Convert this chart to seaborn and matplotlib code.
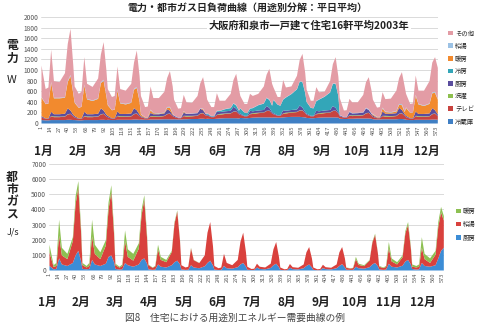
import numpy as np
import pandas as pd
import matplotlib
matplotlib.use("Agg")
import matplotlib.pyplot as plt
import seaborn as sns
from matplotlib.patches import Patch

# ---------------- data ----------------
HOURS = [0, 3, 5, 7, 9, 13, 17, 19, 21, 23]          # sampled hours of each month's weekday profile
MONTHS = ["1月", "2月", "3月", "4月", "5月", "6月", "7月", "8月", "9月", "10月", "11月", "12月"]
XTICKS = list(range(1, 574, 13))

# electricity (W): total envelope and components, one row per month
power_total = [
    [1094, 650, 680, 1390, 800, 780, 950, 1500, 1786, 1100],
    [700, 560, 600, 1252, 750, 690, 850, 1300, 1535, 1000],
    [650, 500, 520, 1075, 650, 620, 750, 1150, 1377, 900],
    [520, 310, 320, 698, 480, 480, 600, 860, 988, 700],
    [450, 280, 290, 540, 400, 390, 520, 760, 874, 620],
    [450, 310, 310, 572, 430, 430, 560, 820, 937, 650],
    [520, 370, 370, 560, 520, 560, 700, 920, 1031, 750],
    [680, 500, 500, 820, 680, 700, 900, 1200, 1314, 950],
    [640, 430, 430, 686, 590, 600, 800, 1120, 1252, 880],
    [480, 245, 250, 465, 400, 400, 540, 780, 874, 620],
    [450, 300, 310, 591, 460, 470, 620, 860, 969, 700],
    [560, 370, 380, 906, 620, 620, 800, 1150, 1252, 1050],
]
fridge = [
    [65, 60, 60, 65, 65, 65, 65, 70, 70, 65],
    [65, 60, 60, 65, 65, 65, 65, 70, 70, 65],
    [70, 65, 65, 70, 70, 70, 70, 75, 75, 70],
    [75, 70, 70, 75, 75, 75, 80, 80, 80, 75],
    [80, 75, 75, 80, 80, 85, 85, 90, 90, 85],
    [90, 85, 85, 90, 95, 100, 100, 100, 100, 95],
    [105, 100, 100, 105, 110, 115, 115, 115, 115, 110],
    [115, 110, 110, 115, 120, 125, 125, 125, 120, 115],
    [105, 100, 100, 105, 110, 115, 115, 115, 115, 110],
    [90, 85, 85, 90, 90, 95, 95, 95, 95, 90],
    [80, 75, 75, 80, 80, 80, 80, 85, 85, 80],
    [70, 65, 65, 70, 70, 70, 70, 75, 75, 70],
]
tv = [
    [50, 25, 25, 70, 55, 55, 65, 100, 110, 70],
    [50, 25, 25, 70, 55, 55, 65, 100, 110, 70],
    [50, 25, 25, 70, 55, 55, 65, 100, 110, 70],
    [45, 25, 25, 60, 50, 50, 60, 95, 105, 65],
    [45, 25, 25, 60, 50, 50, 60, 95, 105, 65],
    [60, 35, 35, 70, 70, 80, 90, 120, 125, 80],
    [60, 35, 35, 70, 70, 80, 90, 120, 125, 80],
    [60, 35, 35, 70, 70, 80, 90, 120, 125, 80],
    [60, 35, 35, 70, 70, 80, 90, 120, 125, 80],
    [45, 25, 25, 60, 50, 50, 60, 95, 105, 65],
    [45, 25, 25, 60, 50, 50, 60, 95, 105, 65],
    [50, 25, 25, 70, 55, 55, 65, 100, 110, 70],
]
laundry = [[0, 0, 0, 5, 15, 10, 5, 5, 5, 0] for _ in range(12)]
kitchen_e = [
    [25, 10, 10, 80, 40, 45, 50, 110, 60, 30],
    [25, 10, 10, 80, 40, 45, 50, 110, 60, 30],
    [25, 10, 10, 80, 40, 45, 50, 110, 60, 30],
    [20, 10, 10, 60, 35, 40, 45, 90, 50, 25],
    [20, 10, 10, 60, 35, 40, 45, 90, 50, 25],
    [20, 10, 10, 60, 35, 40, 45, 90, 50, 25],
    [20, 10, 10, 60, 35, 40, 45, 90, 50, 25],
    [20, 10, 10, 60, 35, 40, 45, 90, 50, 25],
    [20, 10, 10, 60, 35, 40, 45, 90, 50, 25],
    [20, 10, 10, 60, 35, 40, 45, 90, 50, 25],
    [25, 10, 10, 80, 40, 45, 50, 110, 60, 30],
    [25, 10, 10, 80, 40, 45, 50, 110, 60, 30],
]
cooling = [
    [0] * 10, [0] * 10, [0] * 10, [0] * 10, [0] * 10,
    [20, 10, 10, 10, 20, 40, 50, 60, 60, 40],
    [100, 60, 50, 40, 60, 100, 120, 150, 150, 120],
    [250, 200, 180, 200, 250, 300, 380, 450, 480, 350],
    [220, 150, 140, 180, 220, 260, 330, 420, 450, 300],
    [0] * 10, [0] * 10, [0] * 10,
]
heating_e = [
    [350, 270, 280, 550, 300, 300, 300, 500, 650, 400],
    [250, 200, 220, 500, 280, 250, 280, 480, 560, 350],
    [200, 150, 160, 400, 200, 180, 200, 350, 420, 250],
    [30, 10, 10, 50, 20, 10, 10, 30, 60, 20],
    [0, 0, 0, 20, 0, 0, 0, 0, 20, 0],
    [0] * 10, [0] * 10, [0] * 10, [0] * 10, [0] * 10,
    [20, 10, 10, 60, 30, 20, 30, 60, 90, 40],
    [150, 100, 110, 300, 180, 150, 180, 280, 330, 280],
]
hotwater_e = [
    [10, 5, 5, 15, 10, 10, 10, 15, 20, 10],
    [10, 5, 5, 15, 10, 10, 10, 15, 20, 10],
    [10, 5, 5, 15, 10, 10, 10, 15, 20, 10],
    [8, 4, 4, 12, 8, 8, 8, 12, 15, 8],
    [5, 3, 3, 8, 5, 5, 5, 8, 10, 5],
    [5, 3, 3, 8, 5, 5, 5, 8, 10, 5],
    [5, 3, 3, 8, 5, 5, 5, 8, 10, 5],
    [5, 3, 3, 8, 5, 5, 5, 8, 10, 5],
    [5, 3, 3, 8, 5, 5, 5, 8, 10, 5],
    [8, 4, 4, 12, 8, 8, 8, 12, 15, 8],
    [10, 5, 5, 15, 10, 10, 10, 15, 20, 10],
    [10, 5, 5, 15, 10, 10, 10, 15, 20, 10],
]

# city gas (J/s)
gas_kitchen = [
    [300, 80, 100, 800, 400, 300, 500, 1000, 1300, 600],
    [100, 80, 100, 700, 400, 300, 450, 900, 1000, 550],
    [100, 60, 80, 500, 350, 250, 400, 700, 800, 450],
    [80, 40, 60, 400, 250, 200, 350, 550, 650, 400],
    [70, 40, 50, 350, 200, 150, 280, 500, 650, 330],
    [60, 30, 40, 300, 150, 120, 220, 400, 500, 250],
    [50, 30, 30, 200, 100, 80, 170, 350, 450, 220],
    [40, 20, 25, 180, 90, 70, 150, 300, 400, 200],
    [40, 20, 25, 160, 90, 70, 150, 300, 420, 200],
    [50, 40, 40, 250, 150, 120, 220, 400, 500, 280],
    [70, 40, 60, 450, 250, 200, 320, 600, 700, 400],
    [100, 60, 80, 500, 300, 250, 350, 800, 1300, 1500],
]
gas_hotwater = [
    [900, 150, 200, 1500, 600, 450, 1450, 3400, 4150, 1900],
    [250, 120, 200, 1550, 700, 450, 1200, 3150, 4180, 1850],
    [250, 130, 220, 1450, 550, 400, 1050, 2950, 3870, 1700],
    [280, 140, 200, 1000, 450, 350, 870, 2550, 3240, 1550],
    [280, 160, 200, 1100, 480, 340, 720, 2000, 2550, 1270],
    [240, 120, 160, 800, 350, 230, 480, 1500, 2000, 950],
    [200, 70, 90, 250, 150, 120, 280, 1050, 1430, 680],
    [160, 60, 75, 250, 130, 110, 250, 900, 1150, 600],
    [160, 60, 75, 220, 130, 110, 250, 900, 1130, 600],
    [130, 90, 120, 500, 220, 170, 440, 1440, 1850, 880],
    [180, 120, 180, 1030, 350, 200, 560, 1850, 2300, 1080],
    [150, 140, 170, 1000, 450, 250, 700, 2100, 2550, 1800],
]
gas_heating = [
    [500, 120, 200, 1050, 500, 350, 250, 500, 450, 300],
    [150, 100, 200, 1100, 600, 450, 350, 450, 450, 300],
    [100, 60, 100, 700, 500, 450, 350, 350, 300, 250],
    [40, 20, 40, 300, 200, 150, 80, 100, 80, 50],
    [0, 0, 0, 50, 20, 10, 0, 0, 0, 0],
    [0] * 10, [0] * 10, [0] * 10, [0] * 10,
    [20, 20, 20, 150, 80, 60, 40, 60, 80, 40],
    [50, 40, 60, 400, 200, 150, 120, 150, 200, 120],
    [150, 100, 150, 700, 350, 300, 250, 300, 350, 300],
]

# ---------------- build tables ----------------
def flat(rows):
    return np.asarray(rows, dtype=float).ravel()

xpos = np.array([m * 48 + 2 * h + 1 for m in range(12) for h in HOURS])
elec = pd.DataFrame({
    "冷蔵庫": flat(fridge), "テレビ": flat(tv), "洗濯": flat(laundry),
    "厨房": flat(kitchen_e), "冷房": flat(cooling), "暖房": flat(heating_e),
    "給湯": flat(hotwater_e)}, index=xpos)
elec["その他"] = np.clip(flat(power_total) - elec.sum(axis=1).values, 0, None)
gas = pd.DataFrame({"厨房": flat(gas_kitchen), "給湯": flat(gas_hotwater),
                    "暖房": flat(gas_heating)}, index=xpos)

elec_colors = {"冷蔵庫": "#3F7FC4", "テレビ": "#C8433F", "洗濯": "#8DBF4E",
               "厨房": "#5A4D9E", "冷房": "#33A6B8", "暖房": "#F28A2E",
               "給湯": "#9CC2E5", "その他": "#E39CA5"}
gas_colors = {"厨房": "#3C8DD6", "給湯": "#D9413D", "暖房": "#8DC052"}

# ---------------- figure ----------------
sns.set_theme(style="white")
plt.rcParams["font.family"] = ["Noto Sans CJK JP", "DejaVu Sans"]
W, H = 479, 325
fig = plt.figure(figsize=(W / 100, H / 100), dpi=100)
fig.patch.set_facecolor("white")

def px_axes(x0, y0, x1, y1):
    return fig.add_axes([x0 / W, 1 - y1 / H, (x1 - x0) / W, (y1 - y0) / H])

ax1 = px_axes(41, 17, 438, 123)
ax2 = px_axes(49, 164, 444, 270)

def style(ax, ymax, step):
    ax.set_xlim(1, 576)
    ax.set_ylim(0, ymax)
    ax.set_yticks(np.arange(0, ymax + 1, step))
    ax.set_xticks(XTICKS)
    ax.set_xticklabels([str(t) for t in XTICKS], rotation=90, fontsize=4.1, color="#555555")
    ax.tick_params(axis="y", labelsize=4.8, labelcolor="#555555", length=0, pad=2)
    ax.tick_params(axis="x", length=0, pad=2)
    ax.grid(axis="y", color="#D4D4D4", linewidth=0.6)
    ax.set_axisbelow(True)
    sns.despine(ax=ax, left=True, bottom=True, top=True, right=True)
    ax.set_facecolor("white")

order_e = ["冷蔵庫", "テレビ", "洗濯", "厨房", "冷房", "暖房", "給湯", "その他"]
ax1.stackplot(elec.index, *[elec[c].values for c in order_e],
              colors=[elec_colors[c] for c in order_e], linewidth=0)
style(ax1, 2000, 200)

order_g = ["厨房", "給湯", "暖房"]
ax2.stackplot(gas.index, *[gas[c].values for c in order_g],
              colors=[gas_colors[c] for c in order_g], linewidth=0)
style(ax2, 7000, 1000)

# legends
h1 = [Patch(facecolor=elec_colors[c], edgecolor="none") for c in order_e[::-1]]
ax1.legend(h1, order_e[::-1], loc="center left", bbox_to_anchor=(1.02, 0.43),
           frameon=False, fontsize=4.6, handlelength=0.7, handleheight=0.7,
           handletextpad=0.3, labelspacing=0.72, borderaxespad=0)
h2 = [Patch(facecolor=gas_colors[c], edgecolor="none") for c in order_g[::-1]]
ax2.legend(h2, order_g[::-1], loc="center left", bbox_to_anchor=(1.025, 0.43),
           frameon=False, fontsize=4.6, handlelength=0.7, handleheight=0.7,
           handletextpad=0.3, labelspacing=0.85, borderaxespad=0)

# titles
fig.text(247 / W, 1 - 8 / H, "電力・都市ガス日負荷曲線（用途別分解：平日平均）",
         ha="center", va="center", fontsize=7.2, fontweight="bold", color="#222222")
fig.text(309 / W, 1 - 25 / H, "大阪府和泉市一戸建て住宅16軒平均2003年",
         ha="center", va="center", fontsize=7.4, fontweight="bold", color="#222222",
         bbox=dict(facecolor="white", edgecolor="none", pad=1.5))

# side labels
fig.text(12 / W, 1 - 52 / H, "電\n力", ha="center", va="center", fontsize=8.5,
         fontweight="bold", color="#222222", linespacing=1.0)
fig.text(12 / W, 1 - 80 / H, "W", ha="center", va="center", fontsize=8, color="#222222")
fig.text(12 / W, 1 - 196 / H, "都\n市\nガ\nス", ha="center", va="center", fontsize=8.5,
         fontweight="bold", color="#222222", linespacing=0.95)
fig.text(13 / W, 1 - 232 / H, "J/s", ha="center", va="center", fontsize=6.5, color="#222222")

# month labels
for i, m in enumerate(MONTHS):
    fig.text((43 + 34.9 * i) / W, 1 - 151 / H, m, ha="center", va="center",
             fontsize=8.5, fontweight="bold", color="#222222")
    fig.text((47 + 34.2 * i) / W, 1 - 302 / H, m, ha="center", va="center",
             fontsize=8.5, fontweight="bold", color="#222222")

# caption
fig.text(235 / W, 1 - 318 / H, "図8　住宅における用途別エネルギー需要曲線の例",
         ha="center", va="center", fontsize=7, color="#444444")

fig.savefig("out.png", dpi=100, facecolor="white")
